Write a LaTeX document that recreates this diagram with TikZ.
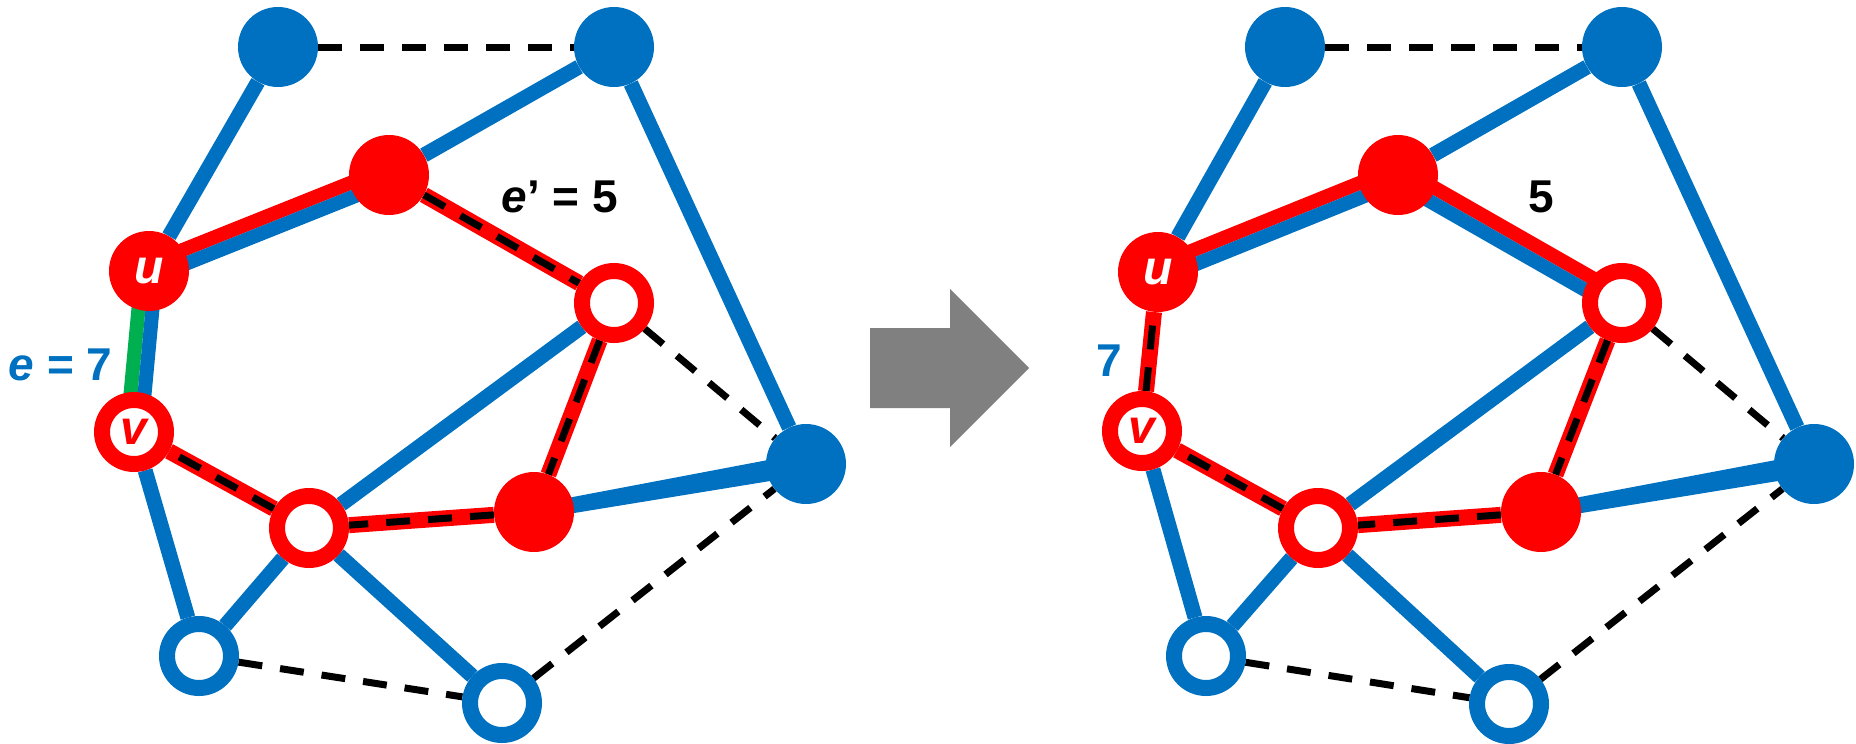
\documentclass[tikz,border=0pt]{standalone}
\usepackage{fontspec}
\setmainfont{Liberation Sans}
\usetikzlibrary{calc}
\definecolor{myblue}{RGB}{0,112,192}
\definecolor{myred}{RGB}{255,0,0}
\definecolor{mygreen}{RGB}{0,176,80}
\definecolor{mygray}{RGB}{128,128,128}
\pgfdeclarelayer{edges}
\pgfsetlayers{edges,main}
\begin{document}
\begin{tikzpicture}[x=1pt,y=-1pt,
  bfill/.style={circle, fill=myblue, minimum size=80pt, inner sep=0pt},
  rfill/.style={circle, fill=myred, minimum size=80pt, inner sep=0pt},
  rring/.style={circle, draw=myred, fill=white, line width=16pt, minimum size=64pt, inner sep=0pt},
  bring/.style={circle, draw=myblue, fill=white, line width=16pt, minimum size=64pt, inner sep=0pt},
  nlbl/.style={font=\bfseries\itshape\fontsize{48}{52}\selectfont},
  lbl/.style={font=\bfseries\fontsize{46}{50}\selectfont, inner sep=0pt, anchor=base},
  bedge/.style={draw=myblue, line width=15pt},
  redge/.style={draw=myred, line width=16pt},
  dedge/.style={draw=black, line width=7pt, dash pattern=on 24pt off 18pt},
  pedge/.style={line width=14pt}
]
\useasboundingbox (0,0) rectangle (1856,744);

% ---------- left graph ----------
\node[bfill] (LA) at (278,47) {};
\node[bfill] (LB) at (614,47) {};
\node[rfill] (LC) at (389,175) {};
\node[rfill, text=white, nlbl] (Lu) at (149,271) {u};
\node[rring] (LD) at (614,303) {};
\node[rring, text=myred, nlbl] (Lv) at (134,432) {v};
\node[bfill] (LE) at (806,464) {};
\node[rring] (LF) at (309,528) {};
\node[rfill] (LG) at (534,512) {};
\node[bring] (LH) at (199,656) {};
\node[bring] (LI) at (502,703) {};

% ---------- right graph ----------
\node[bfill] (RA) at (1285,47) {};
\node[bfill] (RB) at (1622,47) {};
\node[rfill] (RC) at (1398,175) {};
\node[rfill, text=white, nlbl] (Ru) at (1158,272) {u};
\node[rring] (RD) at (1622,303) {};
\node[rring, text=myred, nlbl] (Rv) at (1142,431) {v};
\node[bfill] (RE) at (1814,464) {};
\node[rring] (RF) at (1318,528) {};
\node[rfill] (RG) at (1541,512) {};
\node[bring] (RH) at (1206,656) {};
\node[bring] (RI) at (1509,704) {};

% ---------- labels ----------
\node[lbl, text=myblue] (le) at (60.5,380) {\textit{e} = 7};
\node[lbl, text=black] (lep) at (560,212) {\textit{e}’ = 5};
\node[lbl, text=myblue] (r7) at (1109.5,376) {7};
\node[lbl, text=black] (r5) at (1541.5,212) {5};

% ---------- arrow ----------
\fill[mygray] (870,328) -- (950,328) -- (950,289) -- (1029,368) -- (950,447) -- (950,408) -- (870,408) -- cycle;

\begin{pgfonlayer}{edges}
% left: blue edges
\draw[bedge] (LA) -- (Lu);
\draw[bedge] (LB) -- (LC);
\draw[bedge] (LB) -- (LE);
\draw[bedge] (LD) -- (LF);
\fill[myblue] ($(LG.center)!7.5pt!90:(LE.center)$) -- ($(LE.center)!11pt!-90:(LG.center)$)
  -- ($(LE.center)!11pt!90:(LG.center)$) -- ($(LG.center)!7.5pt!-90:(LE.center)$) -- cycle;
\draw[bedge] (Lv) -- (LH);
\draw[bedge] (LH) -- (LF);
\draw[bedge] (LF) -- (LI);
% left: parallel pairs
\draw[pedge, myred] ($(Lu.center)!7pt!90:(LC.center)$) -- ($(LC.center)!7pt!-90:(Lu.center)$);
\draw[pedge, myblue] ($(Lu.center)!7pt!-90:(LC.center)$) -- ($(LC.center)!7pt!90:(Lu.center)$);
\draw[pedge, mygreen] ($(Lu.center)!7pt!-90:(Lv.center)$) -- ($(Lv.center)!7pt!90:(Lu.center)$);
\draw[pedge, myblue] ($(Lu.center)!7pt!90:(Lv.center)$) -- ($(Lv.center)!7pt!-90:(Lu.center)$);
% left: red dashed edges
\draw[redge] (LC) -- (LD);
\draw[dedge] (LC) -- (LD);
\draw[redge] (LD) -- (LG);
\draw[dedge] (LD) -- (LG);
\draw[redge] (LG) -- (LF);
\draw[dedge] (LG) -- (LF);
\draw[redge] (LF) -- (Lv);
\draw[dedge] (LF) -- (Lv);
% left: dashed edges
\draw[dedge] (LA) -- (LB);
\draw[dedge] (LD) -- (LE);
\draw[dedge] (LH) -- (LI);
\draw[dedge] (LI) -- (LE);

% right: blue edges
\draw[bedge] (RA) -- (Ru);
\draw[bedge] (RB) -- (RC);
\draw[bedge] (RB) -- (RE);
\draw[bedge] (RD) -- (RF);
\fill[myblue] ($(RG.center)!7.5pt!90:(RE.center)$) -- ($(RE.center)!11pt!-90:(RG.center)$)
  -- ($(RE.center)!11pt!90:(RG.center)$) -- ($(RG.center)!7.5pt!-90:(RE.center)$) -- cycle;
\draw[bedge] (Rv) -- (RH);
\draw[bedge] (RH) -- (RF);
\draw[bedge] (RF) -- (RI);
% right: parallel pairs
\draw[pedge, myred] ($(Ru.center)!7pt!90:(RC.center)$) -- ($(RC.center)!7pt!-90:(Ru.center)$);
\draw[pedge, myblue] ($(Ru.center)!7pt!-90:(RC.center)$) -- ($(RC.center)!7pt!90:(Ru.center)$);
\draw[pedge, myred] ($(RC.center)!7pt!90:(RD.center)$) -- ($(RD.center)!7pt!-90:(RC.center)$);
\draw[pedge, myblue] ($(RC.center)!7pt!-90:(RD.center)$) -- ($(RD.center)!7pt!90:(RC.center)$);
% right: red dashed edges
\draw[redge] (RD) -- (RG);
\draw[dedge] (RD) -- (RG);
\draw[redge] (RG) -- (RF);
\draw[dedge] (RG) -- (RF);
\draw[redge] (RF) -- (Rv);
\draw[dedge] (RF) -- (Rv);
\draw[redge] (Rv) -- (Ru);
\draw[dedge] (Rv) -- (Ru);
% right: dashed edges
\draw[dedge] (RA) -- (RB);
\draw[dedge] (RD) -- (RE);
\draw[dedge] (RH) -- (RI);
\draw[dedge] (RI) -- (RE);
\end{pgfonlayer}
\end{tikzpicture}
\end{document}
